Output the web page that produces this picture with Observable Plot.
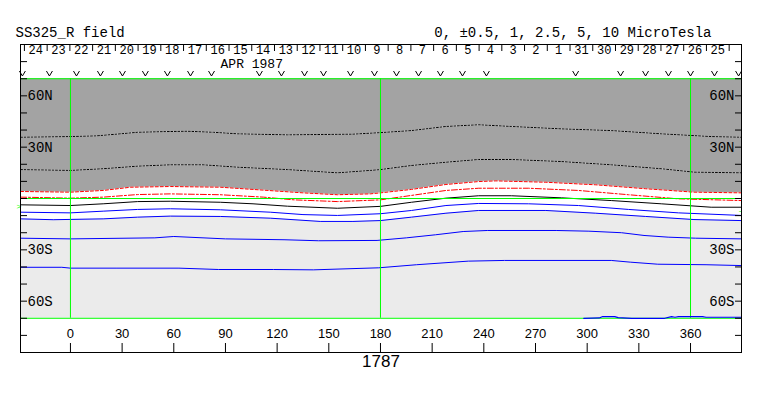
<!DOCTYPE html>
<html><head><meta charset="utf-8">
<script src="https://cdn.jsdelivr.net/npm/d3@7"></script>
<script src="https://cdn.jsdelivr.net/npm/@observablehq/plot@0.6"></script>
<style>
body{margin:0;background:#fff;}
#chart svg{display:block;}
</style></head><body><div id="chart"></div>
<script>
// ---- texts ----
const title = "SS325_R field";
const legendText = "0, \u00b10.5, 1, 2.5, 5, 10 MicroTesla";
const monthLabel = "APR 1987";
const rotationLabel = "1787";

// ---- tick labels ----
const aprilDays = ["24","23","22","21","20","19","18","17","16","15","14","13","12","11","10","9","8","7","6","5","4","3","2","1"];
const marchDays = ["31","30","29","28","27","26","25"];
const lonTicks = [0,30,60,90,120,150,180,210,240,270,300,330,360];
const latTicks = [-80,-70,-60,-50,-40,-30,-20,-10,0,10,20,30,40,50,60,70,80];
const latLabelVals = [60,30,-30,-60];
const latLabelText = ["60N","30N","30S","60S"];
const greenLons = [0,180,360];
const greenLats = [70,0,-70];
const b0Left = -4.8;
const b0Right = -6.8;

// observation marks (Carrington longitude)
const obsLons = [-27.9,-12.2,3.5,17.4,30.2,43.5,56.3,69.7,81.9,109.7,122.5,135.9,146.9,162.6,176.5,189.3,202.1,214.8,227.6,241.5,293.3,319.4,333.9,347.2,360,373.9,387.9];

// ---- contour series [lon, lat] ----
const pos5 = [[-29,35.8],[0,36.2],[15,36.6],[29,37.8],[39,38.7],[55,39.1],[68,39.3],[83,38.7],[97,37.8],[126,37.2],[164,37.6],[180,38.5],[198,39.7],[218,42.1],[237,43.1],[256,42.1],[285,40.7],[314,39.7],[343,37.8],[372,36.2],[389.6,35.8]];
const pos25 = [[-29,16.9],[0,16.4],[19,17.4],[39,18.9],[58,19.7],[77,19.7],[97,18.3],[126,16.9],[155,15.0],[174,16.4],[180,16.9],[198,19.3],[218,21.2],[237,22.8],[256,22.8],[285,21.6],[314,19.7],[343,17.4],[362,15.4],[389.6,15.0]];
const pos1 = [[-29,4.1],[0,3.7],[19,4.7],[35,6.6],[58,7.0],[87,6.6],[106,5.3],[135,3.3],[155,2.2],[174,2.7],[180,3.3],[198,5.3],[218,8.2],[237,9.9],[247,10.3],[276,9.5],[305,8.0],[334,5.7],[362,3.7],[389.6,3.3]];
const pos05 = [[-29,0.8],[0,0.2],[19,0.8],[39,2.3],[58,2.7],[87,2.2],[112,0.8],[130,-0.8],[155,-1.8],[180,-0.8],[198,1.8],[218,4.7],[237,6.0],[266,6.0],[295,4.7],[324,2.2],[353,-0.2],[389.6,-1.2]];
const neutral = [[-29,-3.7],[0,-4.1],[19,-3.1],[39,-1.8],[58,-1.6],[87,-2.2],[106,-3.1],[126,-4.5],[155,-5.7],[180,-4.6],[198,-2.2],[218,0.2],[237,1.6],[256,1.6],[285,0.4],[314,-1.2],[343,-3.1],[372,-5.1],[389.6,-5.1]];
const neg05 = [[-29,-8.0],[0,-8.4],[19,-7.4],[39,-6.4],[58,-6.0],[87,-6.6],[116,-8.0],[135,-9.4],[155,-9.9],[180,-8.9],[198,-7.0],[218,-4.1],[237,-2.9],[266,-3.1],[295,-4.1],[324,-6.4],[353,-8.4],[389.6,-9.9]];
const neg1 = [[-29,-11.9],[-10,-12.4],[19,-11.9],[39,-10.9],[58,-10.3],[87,-10.5],[116,-11.5],[145,-13.4],[164,-13.4],[180,-12.9],[198,-10.9],[218,-8.6],[237,-7.0],[276,-7.0],[305,-8.6],[334,-10.5],[362,-12.3],[389.6,-12.9]];
const neg25 = [[-29,-23.2],[0,-23.6],[49,-23.0],[60,-22.2],[90,-23.6],[124,-24.1],[144,-24.7],[178,-24.5],[195,-23.0],[212,-21.2],[228,-19.3],[242,-18.7],[282,-18.7],[301,-19.1],[320,-20.0],[333,-21.6],[347,-22.6],[363,-23.2],[389.6,-23.6]];
const neg5 = [[-29,-40.2],[-5,-40.2],[0,-40.7],[27,-40.7],[63,-40.7],[86,-41.5],[118,-41.5],[141,-41.7],[179,-40.5],[201,-38.7],[231,-36.6],[252,-36.2],[314,-36.2],[325,-37.2],[341,-38.4],[369,-38.7],[389.6,-39.2]];
const neg10 = [[298,-70],[307,-69.8],[309,-69.0],[316,-69.0],[318,-69.6],[326,-70],[345,-70],[349,-69.0],[351,-69.4],[353,-69.0],[367,-69.0],[369,-69.4],[389.6,-69.4]];

// ---- time -> Carrington longitude (CR 1787) ----
const crStart = Date.UTC(1987, 2, 26, 16, 48);
const synodic = 27.2753;
const lonOf = t => 360 - (t - crStart) / 864e5 * 360 / synodic;
const DAY = 864e5;

const dayData = [
  ...aprilDays.map(d => ({label: d, t: Date.UTC(1987, 3, +d)})),
  ...marchDays.map(d => ({label: d, t: Date.UTC(1987, 2, +d)}))
].map(o => ({label: o.label, lon: lonOf(o.t + DAY / 2), edge: lonOf(o.t)}));
const dayTickLons = [lonOf(Date.UTC(1987, 3, 25)), ...dayData.map(d => d.edge)];
const monthLon = lonOf(Date.UTC(1987, 3, 15));

const P = a => a.map(([lon, lat]) => ({lon, lat}));
const mono = "'Liberation Mono', 'DejaVu Sans Mono', monospace";
const sans = "'Liberation Sans', Arial, sans-serif";
const GREEN = "#00ff00", BLUE = "#0000ff", RED = "#ff0000";

// small downward chevron used for observation marks
const chevron = {
  draw(context) {
    context.moveTo(-3, -2.5);
    context.lineTo(0, 2.5);
    context.lineTo(3, -2.5);
  }
};

const chart = Plot.plot({
  width: 763, height: 396,
  marginLeft: 20, marginRight: 22, marginTop: 44, marginBottom: 44,
  x: {domain: [-29, 389.6], axis: null},
  y: {domain: [-90, 90], axis: null},
  style: {background: "white", fontFamily: mono, overflow: "visible", color: "black"},
  marks: [
    Plot.areaY(P(pos1), {x: "lon", y1: "lat", y2: () => 70, fill: "#a3a3a3"}),
    Plot.areaY(P(neg1), {x: "lon", y1: () => -70, y2: "lat", fill: "#ebebeb"}),
    // positive contours
    Plot.line(P(pos5), {x: "lon", y: "lat", stroke: "white", strokeWidth: 1}),
    Plot.line(P(pos5), {x: "lon", y: "lat", stroke: "black", strokeWidth: 1, strokeDasharray: "2,1.5"}),
    Plot.line(P(pos25), {x: "lon", y: "lat", stroke: "white", strokeWidth: 1}),
    Plot.line(P(pos25), {x: "lon", y: "lat", stroke: "black", strokeWidth: 1, strokeDasharray: "2,1.5"}),
    Plot.line(P(pos1), {x: "lon", y: "lat", stroke: RED, strokeWidth: 1, strokeDasharray: "3,2"}),
    Plot.line(P(pos05), {x: "lon", y: "lat", stroke: RED, strokeWidth: 1, strokeDasharray: "6,2,2,2"}),
    // neutral line
    Plot.line(P(neutral), {x: "lon", y: "lat", stroke: "black", strokeWidth: 1}),
    // negative contours
    Plot.line(P(neg05), {x: "lon", y: "lat", stroke: BLUE, strokeWidth: 1}),
    Plot.line(P(neg1), {x: "lon", y: "lat", stroke: BLUE, strokeWidth: 1}),
    Plot.line(P(neg25), {x: "lon", y: "lat", stroke: BLUE, strokeWidth: 1}),
    Plot.line(P(neg5), {x: "lon", y: "lat", stroke: BLUE, strokeWidth: 1}),
    // green reference lines
    Plot.ruleY(greenLats, {y: d => d, stroke: GREEN, strokeWidth: 1}),
    Plot.ruleX(greenLons, {x: d => d, y1: () => -70, y2: () => 70, stroke: GREEN, strokeWidth: 1}),
    Plot.line(P(neg10), {x: "lon", y: "lat", stroke: BLUE, strokeWidth: 1.2}),
    // latitude axes (inward ticks)
    Plot.axisY(latTicks, {anchor: "left", tickSize: 7, dx: 7, tickFormat: () => "", label: null, stroke: "black"}),
    Plot.axisY(latTicks, {anchor: "right", tickSize: 7, dx: -7, tickFormat: () => "", label: null, stroke: "black"}),
    Plot.text(latLabelVals, {y: d => d, text: (d, i) => latLabelText[i], frameAnchor: "left", dx: 7, textAnchor: "start", fontSize: 14, fill: "black"}),
    Plot.text(latLabelVals, {y: d => d, text: (d, i) => latLabelText[i], frameAnchor: "right", dx: -7, textAnchor: "end", fontSize: 14, fill: "black"}),
    // longitude axis (bottom, ticks upward)
    Plot.axisX(lonTicks, {anchor: "bottom", tickSize: 9, dy: -9, tickFormat: () => "", label: null, stroke: "black"}),
    Plot.text(lonTicks, {x: d => d, text: d => String(d), frameAnchor: "bottom", dy: -15, fontFamily: sans, fontSize: 13, fill: "black"}),
    // day axis (top)
    Plot.axisX(dayTickLons, {anchor: "top", tickSize: 6, dy: 6, tickFormat: () => "", label: null, stroke: "black"}),
    Plot.text(dayData, {x: "lon", text: "label", frameAnchor: "top", dy: 1, lineAnchor: "top", fontSize: 12, fill: "black"}),
    Plot.text([monthLabel], {x: () => monthLon, text: d => d, frameAnchor: "top", dy: 14, fontSize: 13, fill: "black"}),
    Plot.dot(obsLons, {x: d => d, frameAnchor: "top", dy: 29, symbol: chevron, r: 3, stroke: "black", strokeWidth: 1, fill: "none"}),
    // B0 markers
    Plot.text([b0Left], {y: d => d, text: () => ">", frameAnchor: "left", dx: -4, fontSize: 8, fill: GREEN}),
    Plot.text([b0Right], {y: d => d, text: () => "-", frameAnchor: "right", dx: 1, fontSize: 8, fill: GREEN}),
    // titles
    Plot.text([title], {text: d => d, frameAnchor: "top-left", dx: -5, dy: -17, textAnchor: "start", fontSize: 14, fill: "black"}),
    Plot.text([legendText], {text: d => d, frameAnchor: "top-right", dx: -30, dy: -17, textAnchor: "end", fontSize: 14, fill: "black"}),
    Plot.text([rotationLabel], {text: d => d, frameAnchor: "bottom", dy: 14, fontFamily: sans, fontSize: 17, letterSpacing: 1, fill: "black"}),
    Plot.frame({stroke: "black", strokeWidth: 1})
  ]
});
document.getElementById("chart").append(chart);
</script></body></html>
